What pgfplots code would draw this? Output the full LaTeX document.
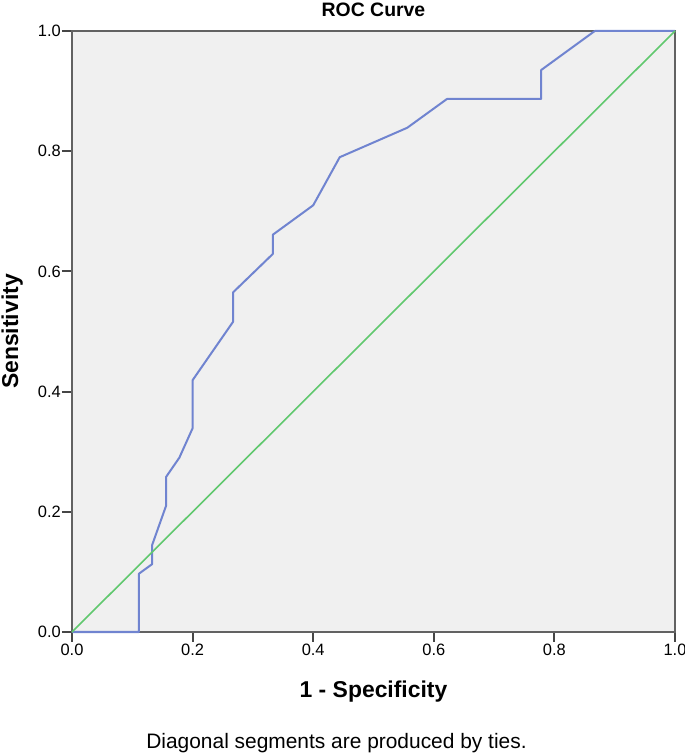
\documentclass[border=0pt]{standalone}
\usepackage{fontspec}
\setmainfont{Liberation Sans}
\usepackage{pgfplots}
\pgfplotsset{compat=1.18}
\definecolor{rocblue}{RGB}{112,132,208}
\definecolor{refgreen}{RGB}{96,200,110}
\definecolor{plotbg}{RGB}{240,240,240}
\definecolor{frame}{RGB}{70,70,70}

\pgfplotstableread{
x y
0.000 0.000
0.111 0.000
0.111 0.097
0.133 0.113
0.133 0.145
0.156 0.210
0.156 0.258
0.178 0.290
0.200 0.339
0.200 0.419
0.267 0.516
0.267 0.565
0.333 0.629
0.333 0.661
0.400 0.710
0.444 0.790
0.556 0.839
0.622 0.887
0.778 0.887
0.778 0.935
0.867 1.000
1.000 1.000
}\roccurve

\begin{document}
\begin{tikzpicture}
\path[use as bounding box] (0,0) rectangle (685bp,753bp);
\begin{axis}[
  at={(72bp,121bp)}, anchor=south west,
  width=603bp, height=601bp,
  scale only axis,
  xmin=0, xmax=1, ymin=0, ymax=1,
  xtick={0,0.2,0.4,0.6,0.8,1},
  ytick={0,0.2,0.4,0.6,0.8,1},
  tick pos=left,
  tick align=outside,
  major tick length=10bp,
  every tick/.style={draw=frame, line width=2bp},
  axis line style={draw=frame, line width=2.2bp},
  axis background/.style={fill=plotbg},
  /pgf/number format/.cd, fixed, fixed zerofill, precision=1, assume math mode=true,
  /pgfplots/.cd,
  ticklabel style={font=\fontsize{16.5}{18}\selectfont},
  xticklabel style={inner sep=2bp},
  yticklabel style={inner sep=1bp},
  title={ROC Curve},
  title style={font=\fontsize{19.5}{22}\selectfont\bfseries, at={(axis description cs:0.5,1)}, anchor=base, yshift=9bp},
  xlabel={1 - Specificity},
  xlabel style={font=\fontsize{23}{26}\selectfont\bfseries, at={(axis description cs:0.5,0)}, anchor=base, yshift=-65bp},
  ylabel={Sensitivity},
  ylabel style={font=\fontsize{23}{26}\selectfont\bfseries, at={(axis description cs:0,0.5)}, anchor=base, yshift=54bp},
  clip=false,
]
\draw[draw=frame!85, line width=2.2bp] (rel axis cs:0,0) rectangle (rel axis cs:1,1);
\addplot[draw=rocblue, line width=2bp, line join=round] table[x=x, y=y] {\roccurve};
\addplot[draw=refgreen, line width=1.6bp] coordinates {(0,0) (1,1)};
\node[font=\fontsize{21}{24}\selectfont, anchor=base] at (axis description cs:0.5,0) [yshift=-116bp, xshift=-37bp] {Diagonal segments are produced by ties.};
\end{axis}
\end{tikzpicture}
\end{document}
